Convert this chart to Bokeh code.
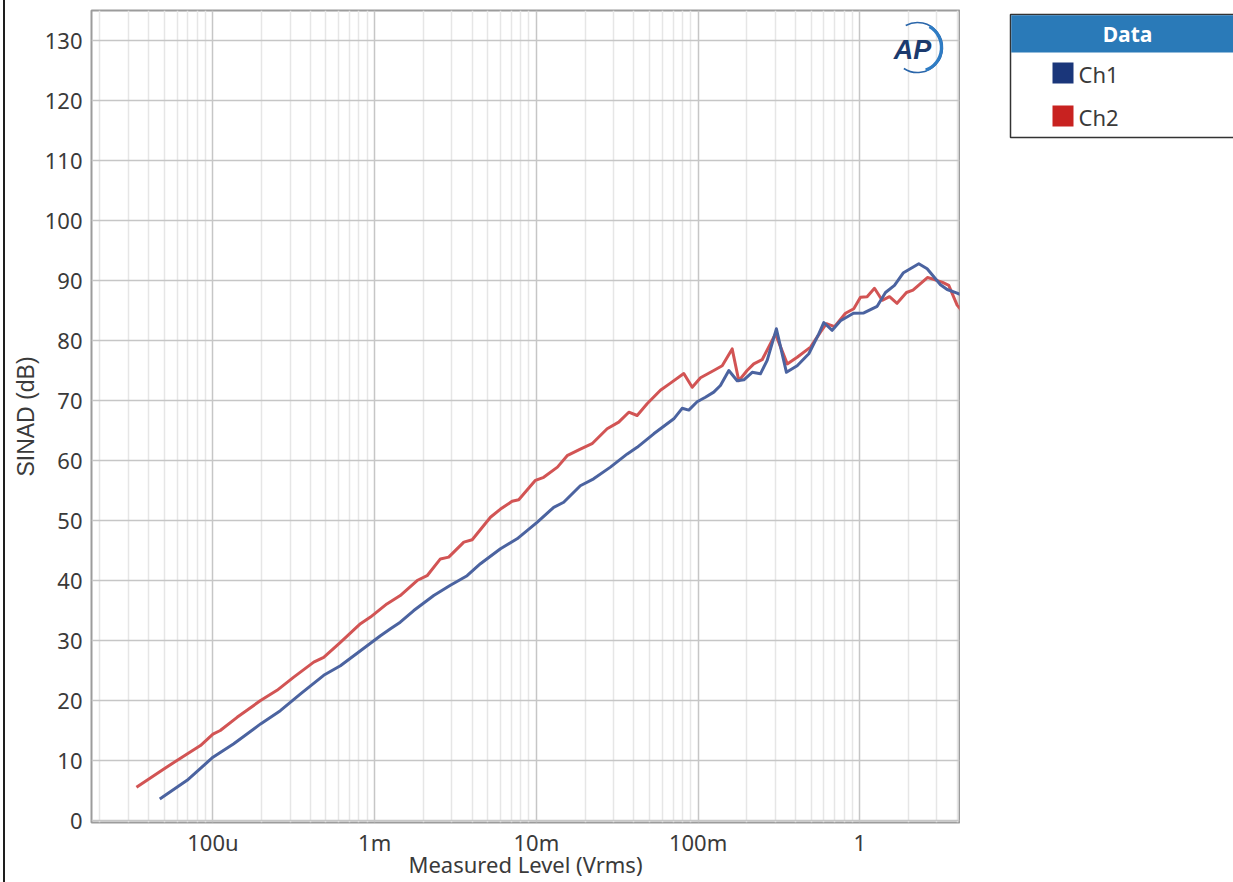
from bokeh.plotting import figure
from bokeh.layouts import row
from bokeh.models import Range1d, FixedTicker, Div, Spacer
from bokeh.core.properties import value
from bokeh.embed import file_html
from bokeh.resources import INLINE

# ---- data ----
ch1_v = [4.69e-5, 6.92e-5, 1.0e-4, 1.345e-4, 1.97e-4, 2.61e-4, 3.48e-4, 4.84e-4, 6.14e-4, 8.17e-4,
         1.086e-3, 1.253e-3, 1.44e-3, 1.745e-3, 2.32e-3, 2.94e-3, 3.73e-3, 4.51e-3, 6.0e-3, 7.6e-3,
         1.01e-2, 1.28e-2, 1.476e-2, 1.87e-2, 2.26e-2, 2.87e-2, 3.65e-2, 4.2e-2, 5.32e-2, 7.08e-2,
         7.97e-2, 8.76e-2, 9.87e-2, 0.111, 0.125, 0.1375, 0.155, 0.1745, 0.192, 0.216,
         0.243, 0.2675, 0.305, 0.352, 0.41, 0.484, 0.558, 0.599, 0.675, 0.76,
         0.914, 1.059, 1.281, 1.442, 1.639, 1.863, 2.317, 2.61, 3.155, 3.47, 4.0, 4.32]
ch1_db = [3.6, 6.7, 10.55, 12.8, 16.1, 18.3, 21.1, 24.2, 25.8, 28.3,
          30.8, 31.95, 33.05, 35.0, 37.5, 39.2, 40.8, 42.8, 45.3, 46.95,
          49.7, 52.2, 53.05, 55.8, 56.95, 58.9, 61.1, 62.2, 64.45, 66.95,
          68.7, 68.4, 69.8, 70.55, 71.4, 72.5, 75.0, 73.3, 73.45, 74.7,
          74.45, 76.7, 81.95, 74.7, 75.8, 77.8, 81.1, 83.0, 81.7, 83.3,
          84.55, 84.6, 85.7, 88.0, 89.2, 91.3, 92.8, 91.95, 89.3, 88.5, 87.9, 87.5]

ch2_v = [3.365e-5, 4.97e-5, 6.92e-5, 8.37e-5, 1.0e-4, 1.11e-4, 1.41e-4, 1.97e-4, 2.49e-4, 3.16e-4,
         4.2e-4, 4.84e-4, 6.14e-4, 8.17e-4, 9.42e-4, 1.19e-3, 1.44e-3, 1.83e-3, 2.11e-3, 2.55e-3,
         2.87e-3, 3.56e-3, 4.01e-3, 5.2e-3, 6.0e-3, 7.08e-3, 7.78e-3, 9.87e-3, 1.11e-2, 1.35e-2,
         1.55e-2, 1.87e-2, 2.21e-2, 2.74e-2, 3.23e-2, 3.73e-2, 4.2e-2, 4.84e-2, 5.85e-2, 6.75e-2,
         8.16e-2, 9.2e-2, 0.1035, 0.125, 0.141, 0.1625, 0.1786, 0.201, 0.221, 0.249,
         0.301, 0.356, 0.41, 0.496, 0.571, 0.622, 0.698, 0.816, 0.918, 1.01,
         1.11, 1.233, 1.375, 1.527, 1.70, 1.944, 2.133, 2.62, 2.86, 3.25, 3.55, 4.0, 4.32]
ch2_db = [5.55, 8.6, 11.1, 12.5, 14.4, 15.0, 17.2, 20.0, 21.7, 23.9,
          26.4, 27.2, 29.7, 32.8, 33.9, 36.1, 37.5, 40.0, 40.8, 43.6,
          43.9, 46.4, 46.8, 50.55, 51.9, 53.2, 53.45, 56.7, 57.2, 58.9,
          60.8, 61.9, 62.8, 65.3, 66.4, 68.05, 67.5, 69.45, 71.7, 72.9,
          74.5, 72.2, 73.8, 75.0, 75.8, 78.6, 73.3, 75.0, 76.1, 76.8,
          81.1, 76.1, 77.2, 78.9, 81.4, 82.8, 82.3, 84.55, 85.3, 87.2,
          87.3, 88.7, 86.7, 87.3, 86.2, 88.0, 88.4, 90.5, 90.2, 89.7, 89.2, 85.9, 84.8]

x_ticks = [1e-4, 1e-3, 1e-2, 1e-1, 1.0]
x_tick_labels = ["100u", "1m", "10m", "100m", "1"]
y_ticks = list(range(0, 131, 10))
series_names = ["Ch1", "Ch2"]

FONT = "Noto Sans"
TXT = "#3a3a3a"
CH1_LINE = "#4b63a0"
CH2_LINE = "#d25454"
CH1_KEY = "#1a367a"
CH2_KEY = "#c82220"

# minor ticks 2..9 of each decade
minor = []
for e in range(-5, 1):
    for m in range(2, 10):
        minor.append(m * 10.0 ** e)

H = 882
BT, BB = 10, 60
p = figure(width=955, height=H, x_axis_type="log", title=None,
           x_range=Range1d(1.774e-5, 4.137), y_range=Range1d(-0.33, 135),
           output_backend="svg", toolbar_location=None,
           min_border_left=86, min_border_right=1, min_border_top=BT, min_border_bottom=BB)
p.background_fill_color = "white"
p.border_fill_color = "white"
p.outline_line_color = "#9c9c9c"
p.outline_line_width = 2

p.xaxis.ticker = FixedTicker(ticks=x_ticks, minor_ticks=minor)
p.xaxis.major_label_overrides = {t: l for t, l in zip(x_ticks, x_tick_labels)}
p.yaxis.ticker = FixedTicker(ticks=y_ticks, minor_ticks=[])

for ax in (p.xaxis[0], p.yaxis[0]):
    ax.axis_line_color = None
    ax.major_tick_line_color = None
    ax.minor_tick_line_color = None
    ax.major_tick_out = 0
    ax.major_tick_in = 0
    ax.minor_tick_out = 0
    ax.minor_tick_in = 0
    ax.major_label_text_font = FONT
    ax.major_label_text_font_size = "22px"
    ax.major_label_text_color = TXT
    ax.axis_label_text_font_style = "normal"
    ax.axis_label_text_color = TXT

p.xaxis.axis_label = "Measured Level (Vrms)"
p.xaxis.axis_label_text_font = FONT
p.xaxis.axis_label_text_font_size = "22px"
p.xaxis.major_label_standoff = 4
p.xaxis.axis_label_standoff = -11
p.yaxis.axis_label = "SINAD (dB)"
p.yaxis.axis_label_text_font = "Liberation Sans"
p.yaxis.axis_label_text_font_size = "23px"
p.yaxis.major_label_standoff = 9
p.yaxis.axis_label_standoff = 3

p.xgrid.grid_line_color = "#c6c6c6"
p.xgrid.grid_line_width = 1.5
p.xgrid.minor_grid_line_color = "#e6e6e6"
p.xgrid.minor_grid_line_width = 1.5
p.ygrid.grid_line_color = "#c6c6c6"
p.ygrid.grid_line_width = 1.5
p.ygrid.minor_grid_line_color = None

p.line(ch2_v, ch2_db, line_color=CH2_LINE, line_width=3, line_join="round")
p.line(ch1_v, ch1_db, line_color=CH1_LINE, line_width=3, line_join="round")

# AP logo
p.arc(x=[2.274], y=[128.83], radius=25, radius_units="screen",
      start_angle=-123, end_angle=118, start_angle_units="deg", end_angle_units="deg",
      line_color="#2a66aa", line_width=1.6)
p.arc(x=[2.274], y=[128.83], radius=24, radius_units="screen",
      start_angle=-70, end_angle=60, start_angle_units="deg", end_angle_units="deg",
      line_color="#2f7cc4", line_width=3.2)
p.text(x=[2.118], y=[128.5], text=["AP"], text_font=value("Liberation Sans"),
       text_font_style="bold italic", text_font_size="27px", text_color="#1b3a6e",
       text_align="center", text_baseline="middle")

# legend panel (its ranges are in page pixels; its frame lines up with the plot frame)
lg = figure(width=273, height=H, x_range=Range1d(960, 1233), y_range=Range1d(822, 10),
            output_backend="svg", toolbar_location=None, title=None,
            x_axis_type=None, y_axis_type=None,
            min_border_left=0, min_border_right=0,
            min_border_top=BT, min_border_bottom=BB)
lg.outline_line_color = None
lg.grid.visible = False
lg.background_fill_color = "white"
lg.border_fill_color = "white"
lg.quad(left=[1010], right=[1300], top=[14], bottom=[137], fill_color="white",
        line_color="#333333", line_width=1.5)
lg.quad(left=[1010.75], right=[1300], top=[14.75], bottom=[52], fill_color="#2a7ab8",
        line_color=None)
lg.text(x=[1127], y=[33], text=["Data"], text_font=value(FONT), text_font_style="bold",
        text_font_size="21px", text_color="white", text_align="center", text_baseline="middle")
key_colors = [CH1_KEY, CH2_KEY]
key_tops = [62, 105]
for name, c, t in zip(series_names, key_colors, key_tops):
    lg.quad(left=[1052], right=[1073], top=[t], bottom=[t + 21], fill_color=c, line_color=None)
    lg.text(x=[1078], y=[t + 11], text=[name], text_font=value(FONT), text_font_size="22px",
            text_color=TXT, text_align="left", text_baseline="middle")

# window edge line at the far left
gap = Spacer(width=3, height=H, margin=(0, 0, 0, 0))
edge = Div(text="", width=2, height=H, margin=(0, 0, 0, 0),
           styles={"background-color": "#1e1e1e"})

layout = row(gap, edge, p, lg, spacing=0)
open("out.html", "w").write(file_html(layout, INLINE))
